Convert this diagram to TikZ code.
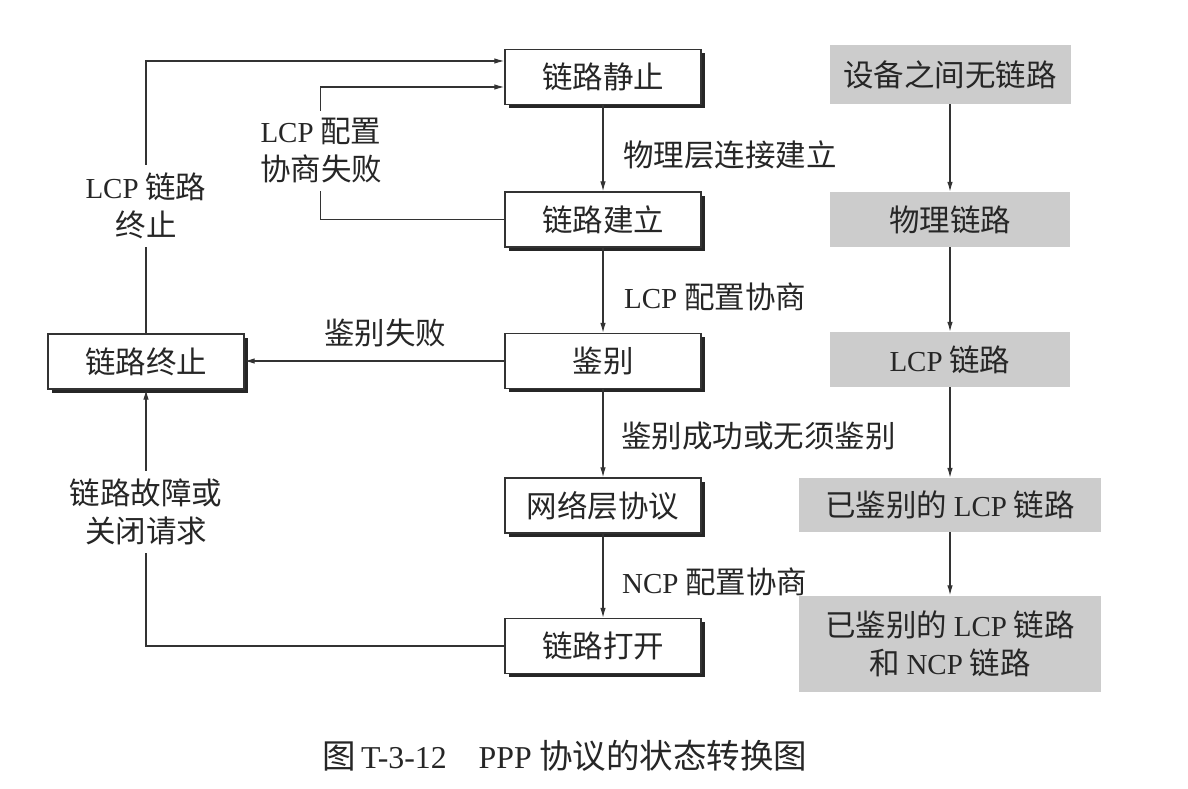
\documentclass[tikz,border=0pt]{standalone}
\usepackage{fontspec}
\setmainfont{Liberation Serif}[Scale=0.95]
\newfontfamily\zh{Noto Sans CJK SC}
\newcommand\la[1]{{\rmfamily #1}}
\usetikzlibrary{arrows.meta,shadows}
\begin{document}
\begin{tikzpicture}[x=1pt,y=-1pt,
  txt/.style={font=\zh\fontsize{30.5}{38}\selectfont, text=black!85, inner sep=0pt},
  state/.style={txt, draw=black!80, line width=1.3pt, fill=white, minimum width=196pt, minimum height=55pt,
     drop shadow={shadow xshift=3.5pt, shadow yshift=-3.5pt, fill=black!85, opacity=1}},
  phase/.style={txt, fill=black!20, minimum height=55pt, align=center},
  lbl/.style={txt, align=center},
  gaplbl/.style={txt, align=center, fill=white, inner sep=8pt},
  conn/.style={draw=black!80, line width=1.2pt},
  arr/.style={conn, -{Latex[length=10pt,width=5.5pt]}}
]
\useasboundingbox (0,0) rectangle (1188,789);
% center column states
\node[state] (s1) at (603,77) {链路静止};
\node[state] (s2) at (603,219.5) {链路建立};
\node[state] (s3) at (603,361) {鉴别};
\node[state] (s4) at (603,505.5) {网络层协议};
\node[state] (s5) at (603,646) {链路打开};
\node[state] (t) at (146,361.5) {链路终止};
% right column phases
\node[phase, minimum width=241pt, minimum height=59pt] (r1) at (950,74.5) {设备之间无链路};
\node[phase, minimum width=240pt] (r2) at (950,219.5) {物理链路};
\node[phase, minimum width=240pt] (r3) at (950,359.5) {\la{LCP} 链路};
\node[phase, minimum width=302pt, minimum height=54pt] (r4) at (950,505) {已鉴别的 \la{LCP} 链路};
\node[phase, minimum width=302pt, minimum height=96pt] (r5) at (950,643.5) {已鉴别的 \la{LCP} 链路\\和 \la{NCP} 链路};
% center arrows
\draw[arr] (s1) -- (s2);
\draw[arr] (s2) -- (s3);
\draw[arr] (s3) -- (s4);
\draw[arr] (s4) -- (s5);
\node[lbl, anchor=west] (l1) at (623,155) {物理层连接建立};
\node[lbl, anchor=west] (l2) at (624,297) {\la{LCP} 配置协商};
\node[lbl, anchor=west] (l3) at (621,436) {鉴别成功或无须鉴别};
\node[lbl, anchor=west] (l4) at (622,582) {\la{NCP} 配置协商};
% right arrows
\draw[arr] (r1) -- (r2);
\draw[arr] (r2) -- (r3);
\draw[arr] (r3) -- (r4);
\draw[arr] (r4) -- (r5);
% loops
\coordinate (s1a) at ([yshift=16pt]s1.west);
\coordinate (s1b) at ([yshift=-10pt]s1.west);
\draw[arr] (t.north) |- (s1a);
\draw[arr] (s2.west) -- ++(-184,0) |- (s1b);
\draw[arr] (s3.west) -- (s3.west -| t.east);
\draw[arr] (s5.west) -| (t.south);
\node[gaplbl] (g1) at (146,206) {\la{LCP} 链路\\终止};
\node[gaplbl] (g2) at (321,151) {\la{LCP} 配置\\协商失败};
\node[gaplbl] (g3) at (146,512) {链路故障或\\关闭请求};
\node[lbl] (g4) at (385,333) {鉴别失败};
% caption
\node[lbl, font=\zh\fontsize{33.5}{38}\selectfont] (cap) at (565,756) {图\hspace{5pt}\la{T-3-12}\hspace{32pt}\la{PPP} 协议的状态转换图};
\end{tikzpicture}
\end{document}
